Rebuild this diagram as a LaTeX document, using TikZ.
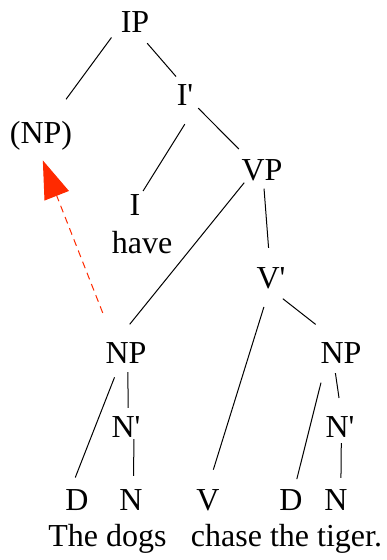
\documentclass[tikz,border=0pt]{standalone}
\usepackage{fontspec}
\setmainfont{Liberation Serif}
\usepackage{tikz}
\usetikzlibrary{arrows.meta}
\definecolor{moved}{HTML}{FF2A00}
\tikzset{
  cat/.style       = {anchor=base, inner sep=2pt, font=\fontsize{32}{38}\selectfont},
  branch/.style    = {draw=black, line width=1pt},
  movearrow/.style = {draw=moved, line width=1pt, dash pattern=on 7pt off 5pt,
                      -{Triangle[length=38pt, width=26pt, fill=moved]}},
}

\begin{document}
\begin{tikzpicture}[x=1pt, y=-1pt]
  \useasboundingbox (0,0) rectangle (387,560);
  % upper part
  \node[cat] (ip) at (135,32) {IP};
  \node[cat] (npt) at (41,143) {(NP)};
  \node[cat] (ibar) at (185,105) {I\textquotesingle};
  \node[cat] (infl) at (135,215) {I};
  \node[cat] (have) at (142,253) {have};
  \node[cat] (vp) at (262,180) {VP};
  \node[cat] (vbar) at (271,288) {V\textquotesingle};
  % lower part
  \node[cat] (npa) at (126,363) {NP};
  \node[cat] (npb) at (341,363) {NP};
  \node[cat] (nbara) at (126,437) {N\textquotesingle};
  \node[cat] (nbarb) at (340,437) {N\textquotesingle};
  \node[cat] (da) at (77,510) {D};
  \node[cat] (na) at (131,510) {N};
  \node[cat] (verb) at (208,510) {V};
  \node[cat] (db) at (291,510) {D};
  \node[cat] (nb) at (336,510) {N};
  \node[cat] (subj) at (107.5,546) {The dogs};
  \node[cat] (pred) at (286.5,546) {chase the tiger.};

  \draw[branch, shorten <=12pt, shorten >=24pt] (ip.201) -- (npt.57);
  \draw[branch, shorten <=12pt, shorten >=7pt] (ip.289) -- (ibar.109);
  \draw[branch, shorten <=20pt, shorten >=1pt] (ibar.south east) -- (infl.north east);
  \draw[branch, shorten <=4pt, shorten >=11pt] (ibar.314) -- (vp.140);
  \draw[branch, shorten >=20pt] (vp.216) -- (npa.125);
  \draw[branch, shorten <=6pt, shorten >=17pt] (vp.277) -- (vbar.95);
  \draw[branch, shorten <=17pt, shorten >=18pt] (vbar.261) -- (verb.north);
  \draw[branch, shorten <=13pt, shorten >=25pt] (vbar.277) -- (npb.114);
  \draw[branch, shorten <=13pt, shorten >=10pt] (npa.242) -- (da.113);
  \draw[branch, shorten <=7pt, shorten >=6pt] (npa.278) -- (nbara.80);
  \draw[branch, shorten >=11pt] (nbara.302) -- (na.79);
  \draw[branch, shorten <=18pt, shorten >=8pt] (npb.219) -- (db.73);
  \draw[branch, shorten <=8pt, shorten >=16pt] (npb.242) -- (nbarb.84);
  \draw[branch, shorten <=4pt, shorten >=9pt] (nbarb.276) -- (nb.69);

  % movement
  \draw[movearrow, shorten <=29pt, shorten >=9pt] (npa.135) -- (npt.265);
\end{tikzpicture}
\end{document}
